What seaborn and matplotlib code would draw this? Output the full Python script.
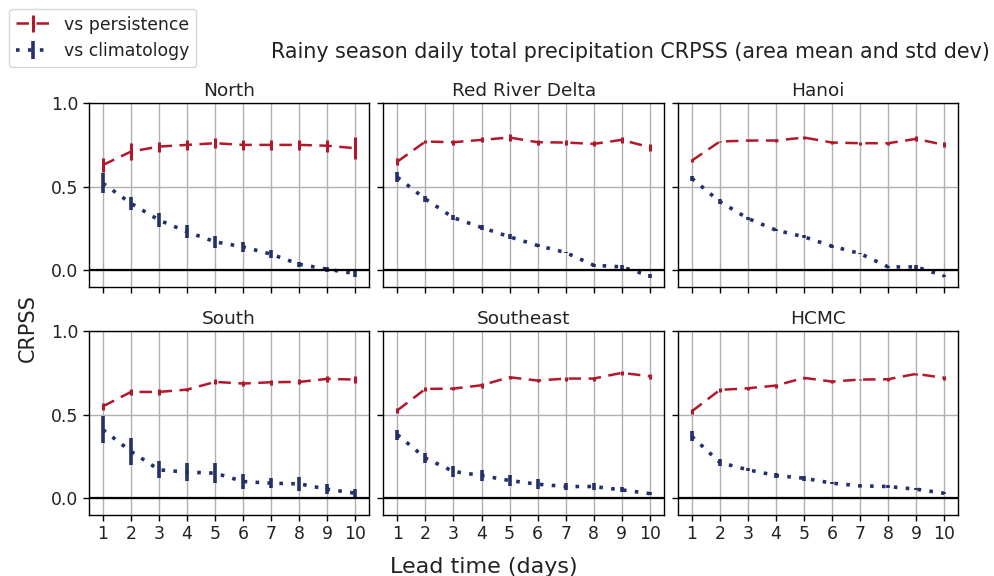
import numpy as np
import pandas as pd
import matplotlib
matplotlib.use("Agg")
import matplotlib.pyplot as plt
import seaborn as sns
from matplotlib.legend_handler import HandlerTuple

lead = [1, 2, 3, 4, 5, 6, 7, 8, 9, 10]
regions = ["North", "Red River Delta", "Hanoi", "South", "Southeast", "HCMC"]

pers_mean = {
    "North":           [0.63, 0.71, 0.74, 0.75, 0.76, 0.75, 0.75, 0.75, 0.745, 0.73],
    "Red River Delta": [0.65, 0.77, 0.766, 0.78, 0.794, 0.766, 0.764, 0.756, 0.78, 0.736],
    "Hanoi":           [0.656, 0.77, 0.776, 0.776, 0.794, 0.764, 0.76, 0.76, 0.786, 0.75],
    "South":           [0.55, 0.636, 0.636, 0.65, 0.696, 0.686, 0.694, 0.696, 0.714, 0.71],
    "Southeast":       [0.526, 0.654, 0.656, 0.676, 0.724, 0.704, 0.716, 0.716, 0.75, 0.73],
    "HCMC":            [0.52, 0.648, 0.658, 0.674, 0.72, 0.698, 0.71, 0.712, 0.744, 0.72],
}
pers_std = {
    "North":           [0.04, 0.05, 0.03, 0.03, 0.03, 0.03, 0.03, 0.03, 0.035, 0.065],
    "Red River Delta": [0.02, 0.01, 0.015, 0.015, 0.02, 0.015, 0.015, 0.015, 0.02, 0.02],
    "Hanoi":           [0.01, 0.005, 0.005, 0.008, 0.01, 0.01, 0.008, 0.008, 0.015, 0.015],
    "South":           [0.02, 0.02, 0.02, 0.01, 0.015, 0.015, 0.015, 0.015, 0.02, 0.02],
    "Southeast":       [0.015, 0.01, 0.01, 0.015, 0.01, 0.01, 0.012, 0.012, 0.012, 0.015],
    "HCMC":            [0.015, 0.01, 0.008, 0.012, 0.008, 0.01, 0.005, 0.01, 0.008, 0.012],
}
clim_mean = {
    "North":           [0.52, 0.40, 0.30, 0.23, 0.17, 0.14, 0.096, 0.036, 0.006, -0.02],
    "Red River Delta": [0.556, 0.426, 0.314, 0.256, 0.20, 0.148, 0.106, 0.03, 0.02, -0.034],
    "Hanoi":           [0.55, 0.41, 0.31, 0.24, 0.20, 0.144, 0.10, 0.02, 0.02, -0.034],
    "South":           [0.41, 0.28, 0.17, 0.156, 0.15, 0.10, 0.09, 0.086, 0.054, 0.03],
    "Southeast":       [0.38, 0.24, 0.16, 0.136, 0.106, 0.084, 0.07, 0.07, 0.05, 0.028],
    "HCMC":            [0.37, 0.214, 0.17, 0.136, 0.12, 0.09, 0.074, 0.07, 0.054, 0.03],
}
clim_std = {
    "North":           [0.06, 0.04, 0.04, 0.04, 0.035, 0.03, 0.025, 0.015, 0.015, 0.02],
    "Red River Delta": [0.03, 0.02, 0.015, 0.015, 0.015, 0.01, 0.005, 0.01, 0.01, 0.01],
    "Hanoi":           [0.015, 0.015, 0.008, 0.005, 0.01, 0.01, 0.005, 0.005, 0.01, 0.008],
    "South":           [0.08, 0.08, 0.05, 0.055, 0.06, 0.045, 0.03, 0.04, 0.03, 0.025],
    "Southeast":       [0.03, 0.03, 0.03, 0.03, 0.03, 0.03, 0.02, 0.02, 0.015, 0.01],
    "HCMC":            [0.03, 0.02, 0.01, 0.012, 0.015, 0.005, 0.005, 0.01, 0.005, 0.005],
}

RED = "#b2182b"
NAVY = "#24306a"
TXT = "#222222"

sns.set_style("ticks", {"axes.grid": True, "grid.color": "#b0b0b0",
                        "axes.edgecolor": "black", "xtick.bottom": True,
                        "ytick.left": True, "text.color": TXT,
                        "xtick.color": "black", "ytick.color": "black",
                        "axes.labelcolor": TXT})
plt.rcParams["font.family"] = ["DejaVu Sans"]

fig, axes = plt.subplots(2, 3, figsize=(9.94, 5.76), dpi=100, sharex=True, sharey=True)
fig.subplots_adjust(left=0.0895, right=0.964, top=0.821, bottom=0.106,
                    wspace=0.05, hspace=0.24)

handles = None
for ax, reg in zip(axes.flat, regions):
    df = pd.DataFrame({"lead": lead, "pers": pers_mean[reg], "clim": clim_mean[reg]})
    sns.lineplot(data=df, x="lead", y="pers", ax=ax, color=RED, linestyle=(0, (5, 3)),
                 linewidth=1.8, legend=False)
    sns.lineplot(data=df, x="lead", y="clim", ax=ax, color=NAVY, linestyle=(0, (1, 2.3)),
                 linewidth=2.6, legend=False)
    e1 = ax.errorbar(lead, pers_mean[reg], yerr=pers_std[reg], fmt="none",
                     ecolor=RED, elinewidth=2.2, capsize=0)
    e2 = ax.errorbar(lead, clim_mean[reg], yerr=clim_std[reg], fmt="none",
                     ecolor=NAVY, elinewidth=2.6, capsize=0)
    ax.axhline(0, color="black", linewidth=1.6, zorder=3)
    ax.set_title(reg, fontsize=13.3, pad=5, color=TXT)
    ax.set_xlim(0.5, 10.5)
    ax.set_ylim(-0.1, 1.0)
    ax.set_xticks(lead)
    ax.set_yticks([0.0, 0.5, 1.0])
    ax.set_xlabel("")
    ax.set_ylabel("")
    ax.grid(True, color="#b0b0b0", linewidth=1.0)
    ax.tick_params(labelsize=12.4, length=4, width=1, color="black", labelcolor=TXT)
    for s in ax.spines.values():
        s.set_visible(True)
        s.set_color("black")
        s.set_linewidth(1.0)
    if handles is None:
        l1, l2 = ax.get_lines()[0], ax.get_lines()[1]
        handles = [(l1, e1), (l2, e2)]

fig.text(0.028, 0.43, "CRPSS", rotation=90, fontsize=15, va="center", ha="center", color=TXT)
fig.text(0.487, 0.016, "Lead time (days)", fontsize=16, ha="center", va="center", color=TXT)
fig.text(0.996, 0.91, "Rainy season daily total precipitation CRPSS (area mean and std dev)",
         fontsize=14.9, ha="right", va="center", color=TXT)
fig.legend(handles, ["vs persistence", "vs climatology"],
           handler_map={tuple: HandlerTuple(ndivide=1)},
           loc="upper left", bbox_to_anchor=(0.0, 1.0), fontsize=12.4,
           frameon=True, handlelength=2.0)

fig.savefig("out.png", dpi=100)
